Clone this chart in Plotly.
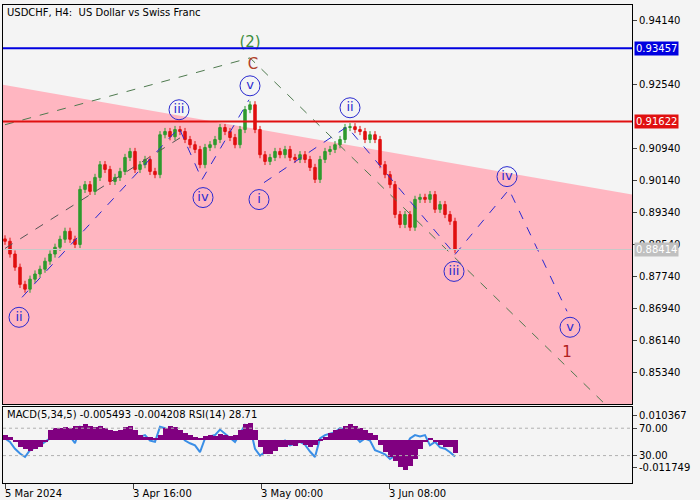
import plotly.graph_objects as go
from plotly.subplots import make_subplots

# H4 candles (index = candle number), closes
close = [0.8862, 0.8830, 0.8797, 0.8754, 0.8742, 0.8767, 0.8780, 0.8792, 0.8812, 0.8830,
         0.8847, 0.8867, 0.8887, 0.8867, 0.8854, 0.8992, 0.9004, 0.8987, 0.9022, 0.9054,
         0.9042, 0.9012, 0.9022, 0.9037, 0.9072, 0.9087, 0.9042, 0.9054, 0.9067, 0.9037,
         0.9029, 0.9129, 0.9137, 0.9124, 0.9142, 0.9137, 0.9117, 0.9104, 0.9092, 0.9054,
         0.9097, 0.9104, 0.9117, 0.9147, 0.9137, 0.9122, 0.9104, 0.9142, 0.9192, 0.9204,
         0.9142, 0.9079, 0.9062, 0.9072, 0.9087, 0.9079, 0.9092, 0.9072, 0.9067, 0.9079,
         0.9067, 0.9047, 0.9017, 0.9067, 0.9087, 0.9092, 0.9104, 0.9117, 0.9147, 0.9149,
         0.9142, 0.9137, 0.9117, 0.9129, 0.9117, 0.9054, 0.9029, 0.9004, 0.8929, 0.8904,
         0.8929, 0.8897, 0.8967, 0.8972, 0.8967, 0.8979, 0.8942, 0.8954, 0.8929, 0.8912,
         0.8841]
first_open = 0.8868
wick = 0.0009

macd = [0.002, 0.001, -0.001, -0.003, -0.004, -0.0045, -0.004, -0.003, -0.001, 0.004,
        0.005, 0.005, 0.0055, 0.005, 0.006, 0.006, 0.0065, 0.006, 0.0055, 0.006,
        0.005, 0.004, 0.0035, 0.004, 0.0055, 0.006, 0.004, 0.002, 0.001, 0.0012,
        0.0008, 0.002, 0.005, 0.006, 0.0055, 0.004, 0.003, 0.002, 0.001, 0.0005,
        0.0015, 0.002, 0.0018, 0.0025, 0.002, 0.0015, 0.002, 0.004, 0.0065, 0.007,
        0.004, -0.003, -0.006, -0.006, -0.0045, -0.003, -0.003, -0.002, -0.0025, -0.0015,
        -0.002, -0.003, -0.002, -0.0005, 0.001, 0.003, 0.004, 0.0045, 0.006, 0.0065,
        0.006, 0.005, 0.004, 0.003, 0.002, -0.002, -0.005, -0.007, -0.009, -0.0115,
        -0.0125, -0.011, -0.008, -0.004, -0.001, 0.0005, -0.001, -0.002, -0.003, -0.003,
        -0.005493]
rsi = [55, 50, 40, 33, 28, 38, 42, 45, 50, 55,
       60, 65, 62, 58, 48, 72, 70, 62, 68, 72,
       65, 55, 58, 60, 68, 70, 55, 58, 60, 52,
       50, 72, 70, 62, 65, 60, 52, 48, 45, 35,
       55, 58, 60, 68, 62, 55, 50, 62, 75, 72,
       40, 30, 35, 45, 50, 48, 52, 45, 48, 50,
       46, 36, 28, 55, 60, 62, 64, 70, 68, 60,
       58, 50, 55, 52, 38, 35, 32, 25, 30, 45,
       40, 55, 60, 58, 60, 45, 50, 42, 40, 35,
       28.71]

# levels
blue_level = 0.93457
red_level = 0.91622
last_price = 0.88414

# pink zone (sloping upper edge)
zone_x = [-0.4, 125.4, 125.4, -0.4]
zone_y = [0.9254, 0.8979, 0.8454, 0.8454]

# wave paths
green_x = [0, 49, 120]
green_y = [0.9154, 0.93215, 0.8454]
chan_x = [0, 36]
chan_y = [0.8844, 0.9129]
wave1_x = [3.4, 34.8, 39.4, 48.8]
wave1_y = [0.87215, 0.91465, 0.90165, 0.92165]
wave2_x = [51.8, 68.4, 90]
wave2_y = [0.90090, 0.91490, 0.88290]
proj_x = [90, 100.8, 112.4]
proj_y = [0.88290, 0.89915, 0.86865]

lab_x = [2.8, 34.8, 39.6, 49, 50.8, 69, 89.8, 100.4, 113]
lab_y = [0.86715, 0.91915, 0.89715, 0.92515, 0.89665, 0.91965, 0.87865, 0.90240, 0.86465]
lab_t = ["ii", "iii", "iv", "v", "i", "ii", "iii", "iv", "v"]

tick_pos = [0, 25.6, 51.2, 76.8]
tick_txt = ["5 Mar 2024", "3 Apr 16:00", "3 May 00:00", "3 Jun 08:00"]
price_ticks = [0.94140, 0.92540, 0.90940, 0.90140, 0.89340, 0.88540,
               0.87740, 0.86940, 0.86140, 0.85340]

idx = list(range(len(close)))
opens = [first_open] + close[:-1]
highs = [max(o, c) + wick for o, c in zip(opens, close)]
lows = [min(o, c) - wick for o, c in zip(opens, close)]

BG = "#f4f4f4"
WAVE = "#2a2ad0"
FONT = "DejaVu Sans"

fig = make_subplots(rows=2, cols=1, shared_xaxes=True, vertical_spacing=0.006,
                    row_heights=[0.84, 0.16], specs=[[{}], [{"secondary_y": True}]])

# pink zone as a shape below the candles
zpath = "M " + " L ".join(f"{x},{y}" for x, y in zip(zone_x, zone_y)) + " Z"
fig.add_shape(type="path", path=zpath, xref="x", yref="y", fillcolor="#ffb6c1",
              line=dict(width=0), layer="below")

fig.add_trace(go.Candlestick(x=idx, open=opens, high=highs, low=lows, close=close,
                             increasing=dict(line=dict(color="#2e9a2e", width=1), fillcolor="#2e9a2e"),
                             decreasing=dict(line=dict(color="#e01010", width=1), fillcolor="#e01010"),
                             whiskerwidth=0), row=1, col=1)

fig.add_trace(go.Scatter(x=green_x, y=green_y, mode="lines",
                         line=dict(color="#4f7a4f", width=1, dash="dash")), row=1, col=1)
fig.add_trace(go.Scatter(x=chan_x, y=chan_y, mode="lines",
                         line=dict(color="#555555", width=1, dash="dash")), row=1, col=1)
for xs, ys in [(wave1_x, wave1_y), (wave2_x, wave2_y), (proj_x, proj_y)]:
    fig.add_trace(go.Scatter(x=xs, y=ys, mode="lines",
                             line=dict(color=WAVE, width=1, dash="dash")), row=1, col=1)

fig.add_trace(go.Scatter(x=lab_x, y=lab_y, mode="markers+text", text=lab_t,
                         textfont=dict(color=WAVE, size=13, family=FONT),
                         marker=dict(size=20, color="rgba(0,0,0,0)", line=dict(color=WAVE, width=1))),
              row=1, col=1)
fig.add_trace(go.Scatter(x=[49, 49.6, 112.4], y=[0.9359, 0.9304, 0.85815], mode="text",
                         text=["(2)", "C", "1"],
                         textfont=dict(color=["#3c8c3c", "#b0402a", "#b02020"], size=15, family=FONT)),
              row=1, col=1)

for lvl, col, w in [(blue_level, "#0000e0", 2), (red_level, "#e01010", 2), (last_price, "#c8c8c8", 1)]:
    fig.add_hline(y=lvl, line=dict(color=col, width=w), row=1, col=1)

# lower panel
fig.add_trace(go.Bar(x=idx, y=macd, marker=dict(color="#800080", line=dict(width=0)), width=1.0),
              row=2, col=1, secondary_y=True)
fig.add_trace(go.Scatter(x=idx, y=rsi, mode="lines", line=dict(color="#3a8ee6", width=2)),
              row=2, col=1, secondary_y=False)
for lvl in [70, 30]:
    fig.add_hline(y=lvl, line=dict(color="#b0b0b0", width=1, dash="dot"), row=2, col=1)

axis_common = dict(showline=True, linecolor="black", mirror=True, showgrid=False,
                   zeroline=False, automargin=False)
fig.update_xaxes(range=[-0.4, 125.4], domain=[0, 1], **axis_common)
fig.update_xaxes(showticklabels=False, rangeslider_visible=False, row=1, col=1)
fig.update_xaxes(tickvals=tick_pos, ticktext=[""] * 4, ticks="outside", ticklen=5, row=2, col=1)
fig.update_yaxes(range=[0.8454, 0.9454], side="right", tickvals=price_ticks,
                 tickformat=".5f", ticks="outside", ticklen=4, tickfont=dict(size=10),
                 row=1, col=1, **axis_common)
fig.update_yaxes(range=[-10, 101], side="right", tickvals=[70, 30], ticktext=["70.00", "30.00"],
                 ticks="outside", ticklen=4, tickfont=dict(size=10),
                 row=2, col=1, secondary_y=False, **axis_common)
fig.update_yaxes(range=[-0.01812, 0.01377], side="right", tickvals=[0.010367, -0.011749],
                 ticktext=["0.010367", "-0.011749"], ticks="outside", ticklen=4, automargin=False,
                 tickfont=dict(size=10), showgrid=False, zeroline=False,
                 row=2, col=1, secondary_y=True)

for p, t in zip(tick_pos, tick_txt):
    fig.add_annotation(x=p, xref="x2", xanchor="left", xshift=-2, y=0, yref="paper",
                       yanchor="top", yshift=-3, text=t, showarrow=False,
                       font=dict(size=10, color="black", family=FONT))

for lvl, col in [(blue_level, "#0000e0"), (red_level, "#e01010"), (last_price, "#c0c0c0")]:
    fig.add_annotation(x=1, xref="paper", xanchor="left", xshift=2, y=lvl, yref="y",
                       text=f"{lvl:.5f}", showarrow=False, bgcolor=col,
                       font=dict(color="white", size=10, family=FONT), borderpad=1)

fig.add_annotation(x=0, xref="paper", xanchor="left", xshift=2, y=1, yref="paper", yanchor="top",
                   text="USDCHF, H4:  US Dollar vs Swiss Franc", showarrow=False,
                   font=dict(size=10, color="black", family=FONT))
fig.add_annotation(x=0, xref="x2 domain", xanchor="left", xshift=2, y=1, yref="y2 domain",
                   yanchor="top", text="MACD(5,34,5) -0.005493 -0.004208 RSI(14) 28.71",
                   showarrow=False, font=dict(size=10, color="black", family=FONT))

fig.update_layout(width=700, height=500, margin=dict(l=3, r=68, t=5, b=17),
                  paper_bgcolor=BG, plot_bgcolor=BG, showlegend=False, bargap=0,
                  font=dict(family=FONT, size=11, color="black"))

fig.write_html("out.html", config={"displayModeBar": False},
               post_script="document.body.style.margin='0';")
